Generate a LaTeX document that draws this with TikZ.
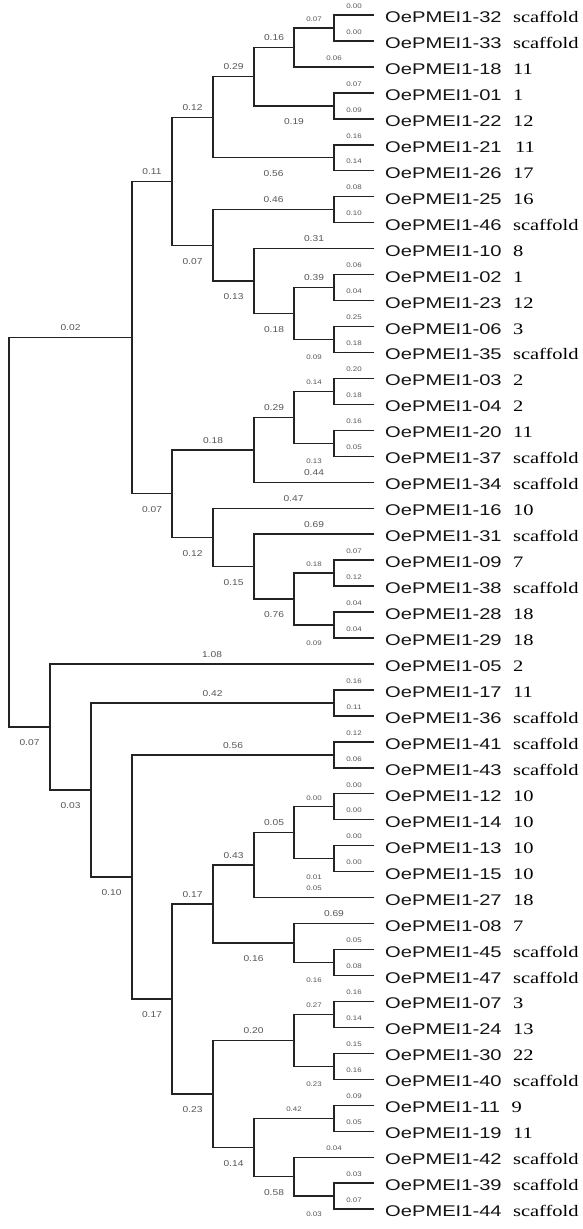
\documentclass[tikz,border=0pt]{standalone}
\usepackage{fontspec}
\usepackage{tikz}
\usetikzlibrary{positioning}
\newfontfamily\taxonfont[FakeStretch=1.3]{Liberation Sans}
\newfontfamily\chromfont[FakeStretch=1.28]{Liberation Serif}
\newfontfamily\lenfont[FakeStretch=1.2]{Liberation Sans}
\definecolor{TreeLine}{RGB}{35,35,35}
\definecolor{TreeText}{RGB}{20,20,20}
\definecolor{LenGray}{RGB}{85,85,85}

\begin{document}
\begin{tikzpicture}[x=1pt, y=-25.96pt,
  branch/.style={draw=TreeLine, line width=1.4pt},
  taxon/.style={anchor=west, inner xsep=11pt, inner ysep=0pt, text height=16pt, text depth=1pt, font=\taxonfont\fontsize{15.5}{16}\selectfont, text=TreeText},
  chrom/.style={inner sep=0pt, text height=16pt, text depth=1pt, font=\chromfont\fontsize{16}{17}\selectfont},
  blen/.style={pos=0.75, inner sep=0pt, font=\lenfont\fontsize{8.5}{8.5}\selectfont, text=LenGray},
  tlen/.style={pos=0.75, inner sep=0pt, font=\lenfont\fontsize{6.6}{6.6}\selectfont, text=LenGray},
  up/.style={above=6pt}, dn/.style={below=12pt}, tdn/.style={below=15pt}
]
\useasboundingbox (0,0.422) rectangle (583,47.765);

% Leaves: gene name and chromosome
\node[taxon] (t32) at (374,1) {OePMEI1-32}; \node[chrom, right=0pt of t32] (k32) {scaffold};
\node[taxon] (t33) at (374,2) {OePMEI1-33}; \node[chrom, right=0pt of t33] (k33) {scaffold};
\node[taxon] (t18) at (374,3) {OePMEI1-18}; \node[chrom, right=0pt of t18] (k18) {11};
\node[taxon] (t01) at (374,4) {OePMEI1-01}; \node[chrom, right=0pt of t01] (k01) {1};
\node[taxon] (t22) at (374,5) {OePMEI1-22}; \node[chrom, right=0pt of t22] (k22) {12};
\node[taxon] (t21) at (374,6) {OePMEI1-21}; \node[chrom, right=0pt of t21, xshift=2pt] (k21) {11};
\node[taxon] (t26) at (374,7) {OePMEI1-26}; \node[chrom, right=0pt of t26] (k26) {17};
\node[taxon] (t25) at (374,8) {OePMEI1-25}; \node[chrom, right=0pt of t25] (k25) {16};
\node[taxon] (t46) at (374,9) {OePMEI1-46}; \node[chrom, right=0pt of t46] (k46) {scaffold};
\node[taxon] (t10) at (374,10) {OePMEI1-10}; \node[chrom, right=0pt of t10] (k10) {8};
\node[taxon] (t02) at (374,11) {OePMEI1-02}; \node[chrom, right=0pt of t02] (k02) {1};
\node[taxon] (t23) at (374,12) {OePMEI1-23}; \node[chrom, right=0pt of t23] (k23) {12};
\node[taxon] (t06) at (374,13) {OePMEI1-06}; \node[chrom, right=0pt of t06] (k06) {3};
\node[taxon] (t35) at (374,14) {OePMEI1-35}; \node[chrom, right=0pt of t35] (k35) {scaffold};
\node[taxon] (t03) at (374,15) {OePMEI1-03}; \node[chrom, right=0pt of t03] (k03) {2};
\node[taxon] (t04) at (374,16) {OePMEI1-04}; \node[chrom, right=0pt of t04] (k04) {2};
\node[taxon] (t20) at (374,17) {OePMEI1-20}; \node[chrom, right=0pt of t20] (k20) {11};
\node[taxon] (t37) at (374,18) {OePMEI1-37}; \node[chrom, right=0pt of t37] (k37) {scaffold};
\node[taxon] (t34) at (374,19) {OePMEI1-34}; \node[chrom, right=0pt of t34] (k34) {scaffold};
\node[taxon] (t16) at (374,20) {OePMEI1-16}; \node[chrom, right=0pt of t16] (k16) {10};
\node[taxon] (t31) at (374,21) {OePMEI1-31}; \node[chrom, right=0pt of t31] (k31) {scaffold};
\node[taxon] (t09) at (374,22) {OePMEI1-09}; \node[chrom, right=0pt of t09] (k09) {7};
\node[taxon] (t38) at (374,23) {OePMEI1-38}; \node[chrom, right=0pt of t38] (k38) {scaffold};
\node[taxon] (t28) at (374,24) {OePMEI1-28}; \node[chrom, right=0pt of t28] (k28) {18};
\node[taxon] (t29) at (374,25) {OePMEI1-29}; \node[chrom, right=0pt of t29] (k29) {18};
\node[taxon] (t05) at (374,26) {OePMEI1-05}; \node[chrom, right=0pt of t05] (k05) {2};
\node[taxon] (t17) at (374,27) {OePMEI1-17}; \node[chrom, right=0pt of t17] (k17) {11};
\node[taxon] (t36) at (374,28) {OePMEI1-36}; \node[chrom, right=0pt of t36] (k36) {scaffold};
\node[taxon] (t41) at (374,29) {OePMEI1-41}; \node[chrom, right=0pt of t41] (k41) {scaffold};
\node[taxon] (t43) at (374,30) {OePMEI1-43}; \node[chrom, right=0pt of t43] (k43) {scaffold};
\node[taxon] (t12) at (374,31) {OePMEI1-12}; \node[chrom, right=0pt of t12] (k12) {10};
\node[taxon] (t14) at (374,32) {OePMEI1-14}; \node[chrom, right=0pt of t14] (k14) {10};
\node[taxon] (t13) at (374,33) {OePMEI1-13}; \node[chrom, right=0pt of t13] (k13) {10};
\node[taxon] (t15) at (374,34) {OePMEI1-15}; \node[chrom, right=0pt of t15] (k15) {10};
\node[taxon] (t27) at (374,35) {OePMEI1-27}; \node[chrom, right=0pt of t27] (k27) {18};
\node[taxon] (t08) at (374,36) {OePMEI1-08}; \node[chrom, right=0pt of t08] (k08) {7};
\node[taxon] (t45) at (374,37) {OePMEI1-45}; \node[chrom, right=0pt of t45] (k45) {scaffold};
\node[taxon] (t47) at (374,38) {OePMEI1-47}; \node[chrom, right=0pt of t47] (k47) {scaffold};
\node[taxon] (t07) at (374,39) {OePMEI1-07}; \node[chrom, right=0pt of t07] (k07) {3};
\node[taxon] (t24) at (374,40) {OePMEI1-24}; \node[chrom, right=0pt of t24] (k24) {13};
\node[taxon] (t30) at (374,41) {OePMEI1-30}; \node[chrom, right=0pt of t30] (k30) {22};
\node[taxon] (t40) at (374,42) {OePMEI1-40}; \node[chrom, right=0pt of t40] (k40) {scaffold};
\node[taxon] (t11) at (374,43) {OePMEI1-11}; \node[chrom, right=0pt of t11] (k11) {9};
\node[taxon] (t19) at (374,44) {OePMEI1-19}; \node[chrom, right=0pt of t19] (k19) {11};
\node[taxon] (t42) at (374,45) {OePMEI1-42}; \node[chrom, right=0pt of t42] (k42) {scaffold};
\node[taxon] (t39) at (374,46) {OePMEI1-39}; \node[chrom, right=0pt of t39] (k39) {scaffold};
\node[taxon] (t44) at (374,47) {OePMEI1-44}; \node[chrom, right=0pt of t44] (k44) {scaffold};

% Internal nodes
\coordinate (c3233) at (334,1.5);
\coordinate (c0122) at (334,4.5);
\coordinate (c2126) at (334,6.5);
\coordinate (c2546) at (334,8.5);
\coordinate (c0223) at (334,11.5);
\coordinate (c0635) at (334,13.5);
\coordinate (c0304) at (334,15.5);
\coordinate (c2037) at (334,17.5);
\coordinate (c0938) at (334,22.5);
\coordinate (c2829) at (334,24.5);
\coordinate (c1736) at (334,27.5);
\coordinate (c4143) at (334,29.5);
\coordinate (c1214) at (334,31.5);
\coordinate (c1315) at (334,33.5);
\coordinate (c4547) at (334,37.5);
\coordinate (c0724) at (334,39.5);
\coordinate (c3040) at (334,41.5);
\coordinate (c1119) at (334,43.5);
\coordinate (c3944) at (334,46.5);
\coordinate (d1) at (294,2.25);
\coordinate (d2) at (294,12.5);
\coordinate (d3) at (294,16.5);
\coordinate (d4) at (294,23.5);
\coordinate (d5) at (294,32.5);
\coordinate (d6) at (294,36.75);
\coordinate (d7) at (294,40.5);
\coordinate (d8) at (294,45.75);
\coordinate (e1) at (254,3.375);
\coordinate (e2) at (254,11.25);
\coordinate (e3) at (254,17.75);
\coordinate (e4) at (254,22.25);
\coordinate (e5) at (254,33.75);
\coordinate (e6) at (254,44.625);
\coordinate (f1) at (213,4.9375);
\coordinate (f2) at (213,9.875);
\coordinate (f3) at (213,21.125);
\coordinate (f4) at (213,35.25);
\coordinate (f5) at (213,42.5625);
\coordinate (g1) at (172,7.40625);
\coordinate (g2) at (172,19.4375);
\coordinate (g3) at (172,38.90625);
\coordinate (h1) at (132,13.421875);
\coordinate (h2) at (132,34.203125);
\coordinate (i1) at (91,30.8515625);
\coordinate (j1) at (50,28.42578);
\coordinate (root) at (9,20.92383);

% Terminal pairs
\draw[branch] (c3233) |- node[tlen, up] {0.00} (t32.west);
\draw[branch] (c3233) |- node[tlen, up] {0.00} (t33.west);
\draw[branch] (c0122) |- node[tlen, up] {0.07} (t01.west);
\draw[branch] (c0122) |- node[tlen, up] {0.09} (t22.west);
\draw[branch] (c2126) |- node[tlen, up] {0.16} (t21.west);
\draw[branch] (c2126) |- node[tlen, up] {0.14} (t26.west);
\draw[branch] (c2546) |- node[tlen, up] {0.08} (t25.west);
\draw[branch] (c2546) |- node[tlen, up] {0.10} (t46.west);
\draw[branch] (c0223) |- node[tlen, up] {0.06} (t02.west);
\draw[branch] (c0223) |- node[tlen, up] {0.04} (t23.west);
\draw[branch] (c0635) |- node[tlen, up] {0.25} (t06.west);
\draw[branch] (c0635) |- node[tlen, up] {0.18} (t35.west);
\draw[branch] (c0304) |- node[tlen, up] {0.20} (t03.west);
\draw[branch] (c0304) |- node[tlen, up] {0.18} (t04.west);
\draw[branch] (c2037) |- node[tlen, up] {0.16} (t20.west);
\draw[branch] (c2037) |- node[tlen, up] {0.05} (t37.west);
\draw[branch] (c0938) |- node[tlen, up] {0.07} (t09.west);
\draw[branch] (c0938) |- node[tlen, up] {0.12} (t38.west);
\draw[branch] (c2829) |- node[tlen, up] {0.04} (t28.west);
\draw[branch] (c2829) |- node[tlen, up] {0.04} (t29.west);
\draw[branch] (c1736) |- node[tlen, up] {0.16} (t17.west);
\draw[branch] (c1736) |- node[tlen, up] {0.11} (t36.west);
\draw[branch] (c4143) |- node[tlen, up] {0.12} (t41.west);
\draw[branch] (c4143) |- node[tlen, up] {0.06} (t43.west);
\draw[branch] (c1214) |- node[tlen, up] {0.00} (t12.west);
\draw[branch] (c1214) |- node[tlen, up] {0.00} (t14.west);
\draw[branch] (c1315) |- node[tlen, up] {0.00} (t13.west);
\draw[branch] (c1315) |- node[tlen, up] {0.00} (t15.west);
\draw[branch] (c4547) |- node[tlen, up] {0.05} (t45.west);
\draw[branch] (c4547) |- node[tlen, up] {0.08} (t47.west);
\draw[branch] (c0724) |- node[tlen, up] {0.16} (t07.west);
\draw[branch] (c0724) |- node[tlen, up] {0.14} (t24.west);
\draw[branch] (c3040) |- node[tlen, up] {0.15} (t30.west);
\draw[branch] (c3040) |- node[tlen, up] {0.16} (t40.west);
\draw[branch] (c1119) |- node[tlen, up] {0.09} (t11.west);
\draw[branch] (c1119) |- node[tlen, up] {0.05} (t19.west);
\draw[branch] (c3944) |- node[tlen, up] {0.03} (t39.west);
\draw[branch] (c3944) |- node[tlen, up] {0.07} (t44.west);

% Upper clade
\draw[branch] (d1) |- node[tlen, up] {0.07} (c3233);
\draw[branch] (d1) |- node[tlen, up] {0.06} (t18.west);
\draw[branch] (e1) |- node[blen, up] {0.16} (d1);
\draw[branch] (e1) |- node[blen, dn] {0.19} (c0122);
\draw[branch] (f1) |- node[blen, up] {0.29} (e1);
\draw[branch] (f1) |- node[blen, dn] {0.56} (c2126);
\draw[branch] (d2) |- node[blen, up] {0.39} (c0223);
\draw[branch] (d2) |- node[tlen, tdn] {0.09} (c0635);
\draw[branch] (e2) |- node[blen, up] {0.31} (t10.west);
\draw[branch] (e2) |- node[blen, dn] {0.18} (d2);
\draw[branch] (f2) |- node[blen, up] {0.46} (c2546);
\draw[branch] (f2) |- node[blen, dn] {0.13} (e2);
\draw[branch] (g1) |- node[blen, up] {0.12} (f1);
\draw[branch] (g1) |- node[blen, dn] {0.07} (f2);
\draw[branch] (d3) |- node[tlen, up] {0.14} (c0304);
\draw[branch] (d3) |- node[tlen, tdn] {0.13} (c2037);
\draw[branch] (e3) |- node[blen, up] {0.29} (d3);
\draw[branch] (e3) |- node[blen, up] {0.44} (t34.west);
\draw[branch] (d4) |- node[tlen, up] {0.18} (c0938);
\draw[branch] (d4) |- node[tlen, tdn] {0.09} (c2829);
\draw[branch] (e4) |- node[blen, up] {0.69} (t31.west);
\draw[branch] (e4) |- node[blen, dn] {0.76} (d4);
\draw[branch] (f3) |- node[blen, up] {0.47} (t16.west);
\draw[branch] (f3) |- node[blen, dn] {0.15} (e4);
\draw[branch] (g2) |- node[blen, up] {0.18} (e3);
\draw[branch] (g2) |- node[blen, dn] {0.12} (f3);
\draw[branch] (h1) |- node[blen, up] {0.11} (g1);
\draw[branch] (h1) |- node[blen, dn] {0.07} (g2);

% Lower clade
\draw[branch] (d5) |- node[tlen, up] {0.00} (c1214);
\draw[branch] (d5) |- node[tlen, tdn] {0.01} (c1315);
\draw[branch] (e5) |- node[blen, up] {0.05} (d5);
\draw[branch] (e5) |- node[tlen, up] {0.05} (t27.west);
\draw[branch] (d6) |- node[blen, up] {0.69} (t08.west);
\draw[branch] (d6) |- node[tlen, tdn] {0.16} (c4547);
\draw[branch] (f4) |- node[blen, up] {0.43} (e5);
\draw[branch] (f4) |- node[blen, dn] {0.16} (d6);
\draw[branch] (d7) |- node[tlen, up] {0.27} (c0724);
\draw[branch] (d7) |- node[tlen, tdn] {0.23} (c3040);
\draw[branch] (d8) |- node[tlen, up] {0.04} (t42.west);
\draw[branch] (d8) |- node[tlen, tdn] {0.03} (c3944);
\draw[branch] (e6) |- node[tlen, up] {0.42} (c1119);
\draw[branch] (e6) |- node[blen, dn] {0.58} (d8);
\draw[branch] (f5) |- node[blen, up] {0.20} (d7);
\draw[branch] (f5) |- node[blen, dn] {0.14} (e6);
\draw[branch] (g3) |- node[blen, up] {0.17} (f4);
\draw[branch] (g3) |- node[blen, dn] {0.23} (f5);
\draw[branch] (h2) |- node[blen, up] {0.56} (c4143);
\draw[branch] (h2) |- node[blen, dn] {0.17} (g3);
\draw[branch] (i1) |- node[blen, up] {0.42} (c1736);
\draw[branch] (i1) |- node[blen, dn] {0.10} (h2);
\draw[branch] (j1) |- node[blen, up] {1.08} (t05.west);
\draw[branch] (j1) |- node[blen, dn] {0.03} (i1);

% Root
\draw[branch] (root) |- node[blen, up] {0.02} (h1);
\draw[branch] (root) |- node[blen, dn] {0.07} (j1);

\end{tikzpicture}
\end{document}
